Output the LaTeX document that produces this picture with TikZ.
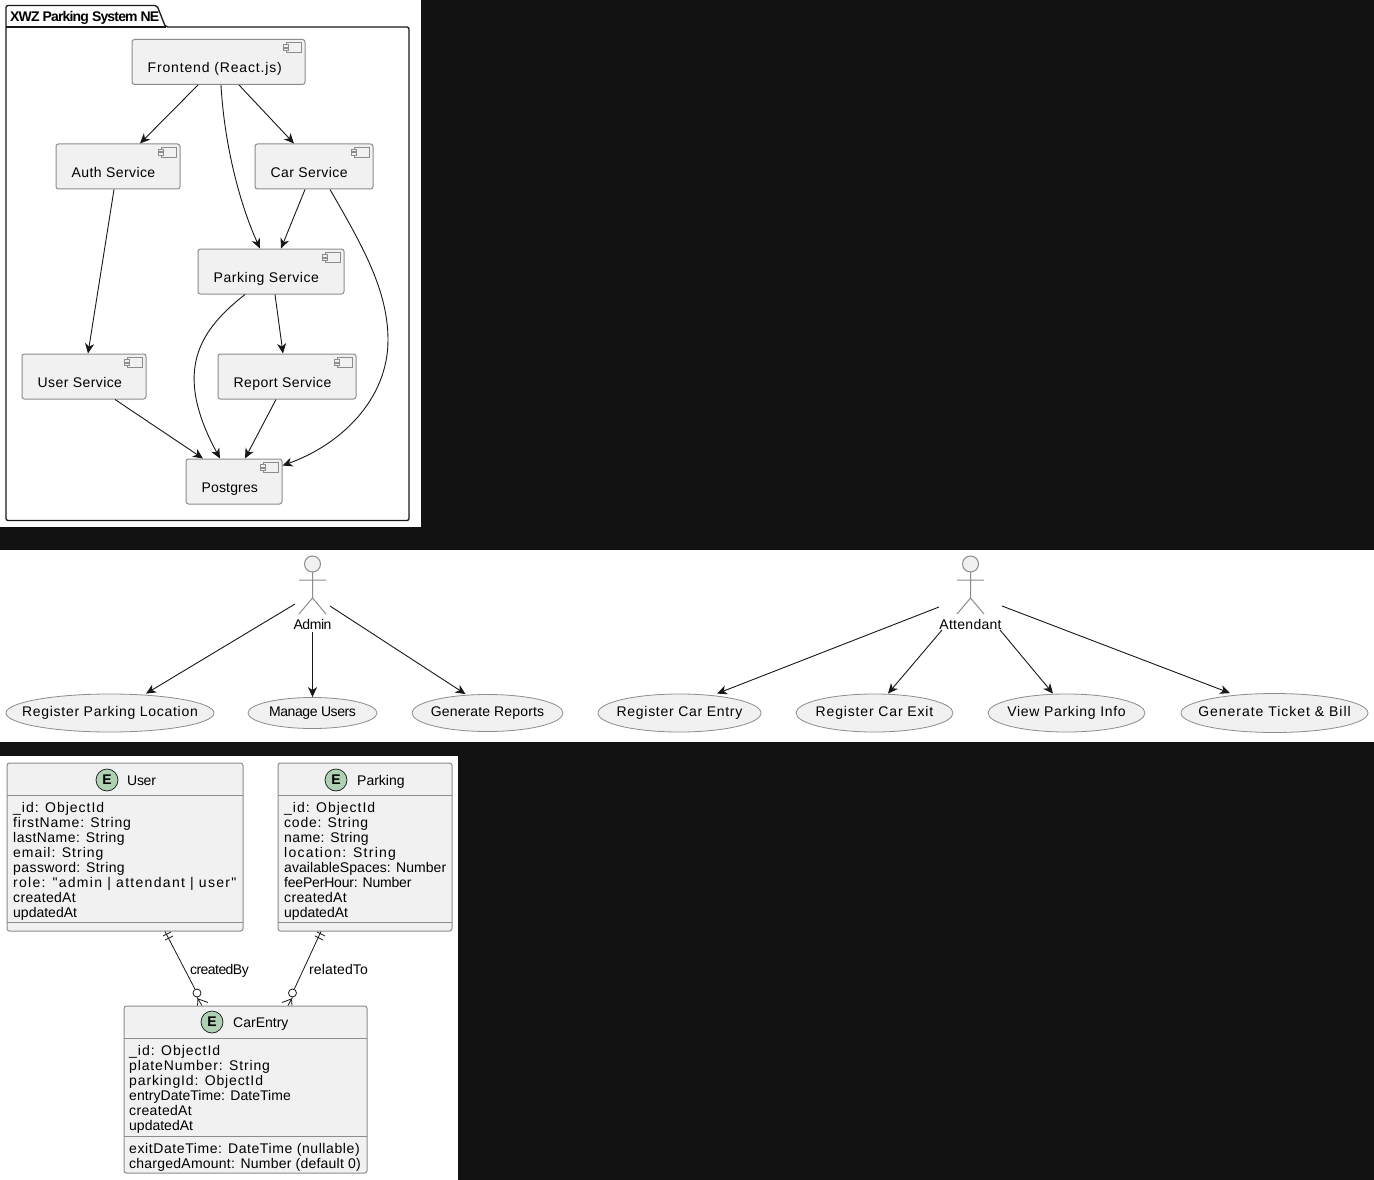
\documentclass[tikz,border=0pt]{standalone}
\usepackage{fontspec}
\setmainfont{Liberation Sans}
\newfontfamily\fieldfont{Liberation Sans}
\usetikzlibrary{arrows.meta,calc,shapes.geometric}
\definecolor{boxfill}{HTML}{F1F1F1}
\definecolor{boxline}{HTML}{8C8C8C}
\definecolor{inkline}{HTML}{181818}
\definecolor{pagedark}{HTML}{121212}
\definecolor{entitygreen}{HTML}{ADD1B2}
\newcommand{\lsp}[2]{{\addfontfeature{LetterSpace=#1}\vphantom{(g}#2}}
\tikzset{
    every node/.style={font=\fontsize{14}{15}\selectfont, text=black, inner sep=0pt},
    boxshape/.style={draw=boxline, fill=boxfill, line width=1pt, rounded corners=2.5pt, minimum height=45pt},
    usecase/.style={ellipse, draw=boxline, fill=boxfill, line width=.8pt},
    entitybox/.style={draw=boxline, fill=boxfill, line width=1pt, rounded corners=2.5pt},
    spot/.style={circle, draw=inkline, fill=entitygreen, line width=.7pt, minimum size=22pt, font=\fontsize{14}{15}\bfseries\selectfont},
    fieldlines/.style={align=left, anchor=north west, font=\fontsize{14}{15}\fieldfont},
    arr/.style={draw=inkline, line width=.9pt, -{Stealth[length=10pt,width=9pt,inset=3pt]}},
    erline/.style={draw=inkline, line width=.8pt},
    pics/compicon/.style={code={
        \draw[draw=boxline, fill=boxfill, line width=1pt] (-19,4) rectangle (-4,14);
        \draw[draw=boxline, fill=boxfill, line width=1pt] (-22,6) rectangle (-17,8.5);
        \draw[draw=boxline, fill=boxfill, line width=1pt] (-22,9.5) rectangle (-17,12);
    }}
}
\newcommand{\compbox}[5]{
    \node[boxshape, minimum width=#4] (#1) at (#2,#3) {};
    \pic at (#1.north east) {compicon};
    \node[anchor=west] (#1label) at ([shift={(16,7)}]#1.west) {#5};
}
\newcommand{\stickman}[3]{
    \draw[draw=boxline, fill=boxfill, line width=1pt] (#2,#3) circle (8);
    \draw[draw=boxline, line width=1pt] (#2,#3+8) -- (#2,#3+34) (#2-13.5,#3+16) -- (#2+13.5,#3+16) (#2-13.5,#3+50) -- (#2,#3+34) -- (#2+13.5,#3+50);
}
\begin{document}
\begin{tikzpicture}[x=1pt,y=-1pt]
    \useasboundingbox (0,0) rectangle (1374,1180);
    \fill[pagedark] (0,0) rectangle (1374,1180);
    \fill[white] (0,0) rectangle (421,527);
    \fill[white] (0,550) rectangle (1374,742);
    \fill[white] (0,756) rectangle (458,1180);

    % package
    \draw[draw=inkline, line width=1.3pt, rounded corners=2pt] (6,27) -- (6,5.5) -- (157,5.5) -- (165.5,27) -- (409,27) -- (409,520.5) -- (6,520.5) -- cycle;
    \draw[draw=inkline, line width=1.3pt] (6,27) -- (165.5,27);
    \node[anchor=west, font=\fontsize{14}{15}\bfseries\selectfont] (pkgtitle) at (10,17.5) {\lsp{-6}{XWZ Parking System NE}};

    % components
    \compbox{fe}{218.5}{62}{173}{\lsp{6}{Frontend (React.js)}}
    \compbox{auth}{118}{166.5}{124}{\lsp{3}{Auth Service}}
    \compbox{car}{314}{166.5}{118}{\lsp{3}{Car Service}}
    \compbox{park}{271}{271.5}{146}{\lsp{4}{Parking Service}}
    \compbox{usr}{84}{376.5}{124}{\lsp{3}{User Service}}
    \compbox{rep}{287}{376.5}{138}{\lsp{3}{Report Service}}
    \compbox{pg}{234}{481.5}{96}{\lsp{1}{Postgres}}

    \draw[arr] ([shift={(-20.5,0)}]fe.south) -- ([shift={(22,0)}]auth.north);
    \draw[arr] ([shift={(20.5,0)}]fe.south) -- ([shift={(-20,0)}]car.north);
    \draw[arr] ([shift={(2.5,0)}]fe.south) .. controls (224,140) and (238,200) .. ([shift={(-11,0)}]park.north);
    \draw[arr] ([shift={(-9,0)}]car.south) -- ([shift={(10,0)}]park.north);
    \draw[arr] ([shift={(16,0)}]car.south) .. controls (362,245) and (388,290) .. (388,340) .. controls (388,400) and (340,445) .. ([shift={(0,7)}]pg.north east);
    \draw[arr] ([shift={(-4,0)}]auth.south) -- ([shift={(4,0)}]usr.north);
    \draw[arr] ([shift={(-26,0)}]park.south) .. controls (200,330) and (172,370) .. ([shift={(-14,0)}]pg.north);
    \draw[arr] ([shift={(4,0)}]park.south) -- ([shift={(-4,0)}]rep.north);
    \draw[arr] ([shift={(31,0)}]usr.south) -- ([shift={(-31,0)}]pg.north);
    \draw[arr] ([shift={(-11,0)}]rep.south) -- ([shift={(11,0)}]pg.north);

    % use cases
    \stickman{admin}{312.5}{564}
    \node (admin) at (312.5,626) {\lsp{-3}{Admin}};
    \stickman{attendant}{970.5}{564}
    \node (attendant) at (970.5,626) {\lsp{2}{Attendant}};

    \node[usecase, minimum width=208pt, minimum height=38pt, label=center:{\lsp{5}{Register Parking Location}}] (uc1) at (110,713) {};
    \node[usecase, minimum width=129pt, minimum height=31pt, label=center:{\lsp{-3}{Manage Users}}] (uc2) at (312.5,713) {};
    \node[usecase, minimum width=151pt, minimum height=37pt, label=center:{\lsp{1}{Generate Reports}}] (uc3) at (487.5,713) {};
    \node[usecase, minimum width=163pt, minimum height=38pt, label=center:{\lsp{5}{Register Car Entry}}] (uc4) at (679.5,713) {};
    \node[usecase, minimum width=157pt, minimum height=38pt, label=center:{\lsp{6}{Register Car Exit}}] (uc5) at (874.5,713) {};
    \node[usecase, minimum width=157pt, minimum height=38pt, label=center:{\lsp{5}{View Parking Info}}] (uc6) at (1066.5,713) {};
    \node[usecase, minimum width=187pt, minimum height=39pt, label=center:{\lsp{7}{Generate Ticket \& Bill}}] (uc7) at (1274.5,713) {};

    \draw[arr] ([shift={(-17.5,-22)}]admin.center) -- ([shift={(36,0)}]uc1.north);
    \draw[arr] ([shift={(0,6)}]admin.center) -- (uc2.north);
    \draw[arr] ([shift={(17.5,-20)}]admin.center) -- ([shift={(-22,0)}]uc3.north);
    \draw[arr] ([shift={(-31.5,-19)}]attendant.center) -- ([shift={(37.5,0)}]uc4.north);
    \draw[arr] ([shift={(-28.5,4)}]attendant.center) -- ([shift={(13.5,0)}]uc5.north);
    \draw[arr] ([shift={(29.5,4)}]attendant.center) -- ([shift={(-13.5,0)}]uc6.north);
    \draw[arr] ([shift={(31.5,-20)}]attendant.center) -- ([shift={(-44.5,0)}]uc7.north);

    % entities
    \node[entitybox, minimum width=236pt, minimum height=168pt] (userent) at (125,847) {};
    \draw[draw=boxline, line width=1pt] (7,795) -- (243,795) (7,922) -- (243,922);
    \node[spot] (userspot) at (107,780) {E};
    \node[anchor=west] (usertitle) at (127,782) {\lsp{-2}{User}};
    \node[fieldlines] (userfields) at (13,802) {\lsp{7}{\_id: ObjectId}\\\lsp{5.7}{firstName: String}\\\lsp{3.4}{lastName: String}\\\lsp{7}{email: String}\\\lsp{3}{password: String}\\\lsp{9.3}{role: "admin | attendant | user"}\\\lsp{2.4}{createdAt}\\updatedAt};

    \node[entitybox, minimum width=174pt, minimum height=168pt] (parkent) at (365,847) {};
    \draw[draw=boxline, line width=1pt] (278,795) -- (452,795) (278,922) -- (452,922);
    \node[spot] (parkspot) at (336,780) {E};
    \node[anchor=west] (parktitle) at (357,782) {Parking};
    \node[fieldlines] (parkfields) at (284,802) {\lsp{7}{\_id: ObjectId}\\\lsp{5.5}{code: String}\\\lsp{2.7}{name: String}\\\lsp{8.9}{location: String}\\\lsp{.4}{availableSpaces: Number}\\\lsp{-1.4}{feePerHour: Number}\\\lsp{2.4}{createdAt}\\updatedAt};

    \node[entitybox, minimum width=243pt, minimum height=167pt] (carent) at (245.5,1089.5) {};
    \draw[draw=boxline, line width=1pt] (124,1038) -- (367,1038) (124,1136) -- (367,1136);
    \node[spot] (carspot) at (212,1022) {E};
    \node[anchor=west] (cartitle) at (233,1024) {CarEntry};
    \node[fieldlines] (carfields) at (129,1045) {\lsp{7}{\_id: ObjectId}\\\lsp{6.2}{plateNumber: String}\\\lsp{6.2}{parkingId: ObjectId}\\\lsp{.4}{entryDateTime: DateTime}\\\lsp{2.4}{createdAt}\\updatedAt};
    \node[fieldlines] (carextra) at (129,1143) {\lsp{4.2}{exitDateTime: DateTime (nullable)}\\\lsp{1.7}{chargedAmount: Number (default 0)}};

    % relations
    \node[circle, draw=inkline, line width=.8pt, fill=white, minimum size=8pt] (usercirc) at (197,993) {};
    \node[circle, draw=inkline, line width=.8pt, fill=white, minimum size=8pt] (parkcirc) at (292.5,993) {};
    \draw[erline] ([shift={(40,0)}]userent.south) -- (usercirc);
    \draw[erline] ([shift={(-44,0)}]parkent.south) -- (parkcirc);
    \draw[erline] (163,936) -- (171,932) (165,940) -- (173,936);
    \draw[erline] (317,932) -- (325,936) (315,936) -- (323,940);
    \draw[erline] (usercirc.south) -- ([shift={(-43.5,0)}]carent.north);
    \draw[erline] ([shift={(1,1.5)}]usercirc.south) -- ([shift={(-37.5,-3)}]carent.north);
    \draw[erline] ([shift={(1,1.5)}]usercirc.south) -- ([shift={(-48,0)}]carent.north);
    \draw[erline] (parkcirc.south) -- ([shift={(42.5,0)}]carent.north);
    \draw[erline] ([shift={(-1,1.5)}]parkcirc.south) -- ([shift={(36.5,-3)}]carent.north);
    \draw[erline] ([shift={(-1,1.5)}]parkcirc.south) -- ([shift={(46.5,0)}]carent.north);
    \node[anchor=west] (createdlabel) at (190,971) {\lsp{-4}{createdBy}};
    \node[anchor=west] (relatedlabel) at (309,971) {\lsp{1}{relatedTo}};
\end{tikzpicture}
\end{document}
